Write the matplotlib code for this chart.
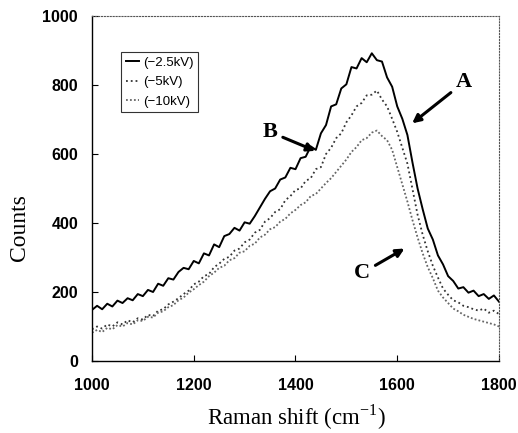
import matplotlib
matplotlib.use("Agg")
import matplotlib.pyplot as plt

shift = list(range(1000, 1801, 10))

counts_25kv = [148, 160, 150, 166, 158, 175, 168, 182, 176, 194,
               188, 206, 200, 224, 218, 240, 236, 258, 270, 266,
               290, 283, 312, 306, 338, 330, 362, 368, 386, 378,
               402, 398, 420, 445, 470, 492, 500, 526, 532, 560,
               556, 588, 592, 622, 612, 660, 684, 738, 744, 790,
               802, 852, 848, 878, 866, 892, 872, 868, 822, 795,
               738, 702, 655, 575, 500, 440, 384, 352, 306, 280,
               246, 232, 210, 214, 198, 204, 188, 194, 180, 190,
               172]

counts_5kv = [92, 100, 94, 106, 100, 112, 106, 118, 112, 124,
              120, 134, 130, 146, 150, 164, 172, 182, 194, 204,
              222, 230, 246, 252, 272, 282, 296, 302, 320, 326,
              344, 352, 372, 380, 404, 414, 432, 440, 466, 478,
              496, 500, 522, 530, 556, 562, 600, 618, 646, 660,
              692, 712, 738, 748, 770, 772, 784, 758, 738, 702,
              664, 618, 572, 498, 424, 366, 318, 276, 242, 210,
              192, 176, 170, 160, 156, 150, 146, 152, 140, 146,
              136]

counts_10kv = [82, 90, 84, 96, 92, 104, 100, 110, 106, 118,
               116, 128, 126, 140, 144, 156, 162, 176, 184, 198,
               208, 220, 230, 246, 256, 270, 276, 292, 298, 314,
               318, 334, 340, 358, 366, 382, 388, 404, 412, 428,
               438, 452, 460, 478, 484, 500, 516, 530, 548, 566,
               584, 606, 620, 640, 646, 662, 668, 652, 640, 612,
               562, 512, 462, 408, 358, 312, 272, 240, 204, 184,
               168, 152, 144, 134, 128, 122, 118, 114, 110, 106,
               100]

labels = ["(\u22122.5kV)", "(\u22125kV)", "(\u221210kV)"]

fig = plt.figure(figsize=(5.18, 4.33), dpi=100)
ax = fig.add_axes([0.1776, 0.1663, 0.7857, 0.7967])

ax.plot(shift, counts_25kv, color="black", lw=1.4, label=labels[0])
ax.plot(shift, counts_5kv, color="#333333", lw=1.3, ls=":", label=labels[1])
ax.plot(shift, counts_10kv, color="#666666", lw=1.3, ls=(0, (1, 1.2)), label=labels[2])

ax.set_xlim(1000, 1800)
ax.set_ylim(0, 1000)
ax.set_xticks(range(1000, 1801, 200))
ax.set_yticks(range(0, 1001, 200))
ax.tick_params(direction="in", length=4, labelsize=11.5)
for t in ax.get_xticklabels() + ax.get_yticklabels():
    t.set_fontfamily("Liberation Sans")
    t.set_fontweight("bold")
ax.tick_params(axis="x", pad=12)
ax.tick_params(axis="y", pad=10)

for side in ["top", "right"]:
    ax.spines[side].set_linestyle(":")
    ax.spines[side].set_color("#555555")
for side in ["left", "bottom"]:
    ax.spines[side].set_linewidth(1.0)

ax.set_xlabel("Raman shift (cm$^{\\mathregular{-1}}$)", family="Liberation Serif",
              fontsize=16.5, va="center")
ax.xaxis.set_label_coords(0.502, -0.163)
ax.set_ylabel("Counts", family="Liberation Serif", fontsize=17, va="center")
ax.yaxis.set_label_coords(-0.177, 0.386)

leg = ax.legend(loc="upper left", bbox_to_anchor=(0.071, 0.896), frameon=True,
                fancybox=False, edgecolor="black", handlelength=1.0,
                handletextpad=0.3, borderpad=0.35, labelspacing=0.55,
                borderaxespad=0,
                prop={"family": "Liberation Sans", "size": 9.5})
leg.get_frame().set_linewidth(0.8)

arrow = dict(arrowstyle="-|>", color="black", lw=2.2, mutation_scale=12)
txt = dict(family="Liberation Serif", fontsize=16, fontweight="bold")
ax.annotate("A", xy=(1625, 684), xytext=(1731, 808), arrowprops=arrow,
            ha="center", va="center", **txt)
ax.annotate("B", xy=(1444, 606), xytext=(1350, 664), arrowprops=arrow,
            ha="center", va="center", **txt)
ax.annotate("C", xy=(1619, 330), xytext=(1531, 255), arrowprops=arrow,
            ha="center", va="center", **txt)

fig.savefig("out.png", dpi=100)
